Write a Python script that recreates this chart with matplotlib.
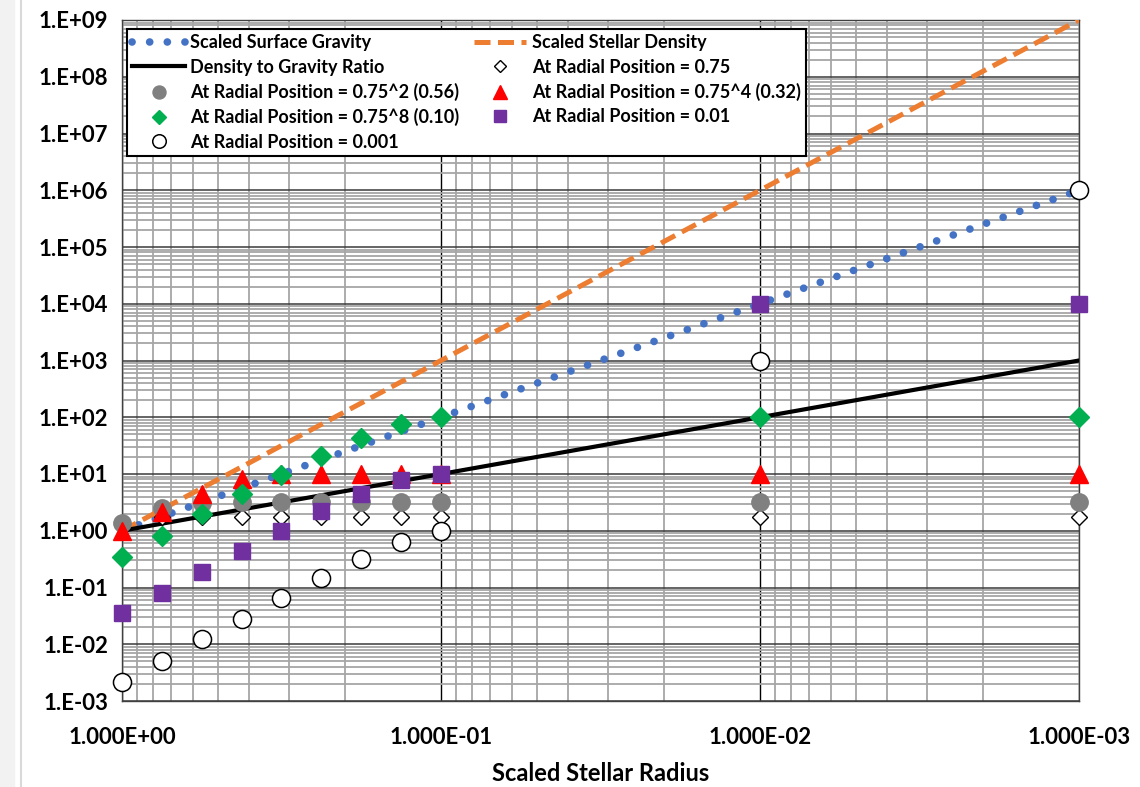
import matplotlib
matplotlib.use("Agg")
import matplotlib.pyplot as plt
from matplotlib.lines import Line2D
from matplotlib.patches import Rectangle
from matplotlib.ticker import FixedLocator, NullFormatter

plt.rcParams['font.family'] = ['Lato', 'DejaVu Sans']
plt.rcParams['font.weight'] = 'bold'

# scaled stellar radius for the marker series
radius = [1.0, 0.75, 0.5625, 0.4219, 0.3164, 0.2373, 0.1780, 0.1335, 0.1001, 0.01, 0.001]

# values at fixed radial positions
at_075 = [1.3, 1.78, 1.78, 1.78, 1.78, 1.78, 1.78, 1.78, 1.78, 1.78, 1.78]
at_056 = [1.36, 2.55, 3.1, 3.16, 3.16, 3.16, 3.16, 3.16, 3.16, 3.16, 3.16]
at_032 = [1.0, 2.1, 4.4, 8.1, 10, 10, 10, 10, 10, 10, 10]
at_010 = [0.35, 0.82, 1.96, 4.4, 9.6, 21, 43.5, 77, 100, 100, 100]
at_001 = [0.036, 0.080, 0.19, 0.435, 0.98, 2.19, 4.4, 7.85, 10, 10000, 10000]
at_0001 = [0.0022, 0.0050, 0.0122, 0.0283, 0.065, 0.148, 0.319, 0.641, 1.0, 1000, 1e6]

# straight lines on log-log axes
line_radius = [1.0, 0.1, 0.01, 0.001]
surface_gravity = [1, 100, 1e4, 1e6]
stellar_density = [1, 1e3, 1e6, 1e9]
density_gravity_ratio = [1, 10, 100, 1000]

x_ticks = [1.0, 0.1, 0.01, 0.001]
x_labels = ['1.000E+00', '1.000E-01', '1.000E-02', '1.000E-03']
y_ticks = [1e-3, 1e-2, 1e-1, 1e0, 1e1, 1e2, 1e3, 1e4, 1e5, 1e6, 1e7, 1e8, 1e9]
y_labels = ['1.E-03', '1.E-02', '1.E-01', '1.E+00', '1.E+01', '1.E+02', '1.E+03',
            '1.E+04', '1.E+05', '1.E+06', '1.E+07', '1.E+08', '1.E+09']

fig = plt.figure(figsize=(11.4, 7.87), dpi=100)
ax = fig.add_axes([122 / 1140, 1 - 701 / 787, 957 / 1140, 681 / 787])

# light strip on the far left like the screenshot
fig.patches.append(Rectangle((0, 0), 14 / 1140, 1, transform=fig.transFigure,
                             color='#f2f2f2', zorder=0))
fig.add_artist(Line2D([21 / 1140, 21 / 1140], [0, 1], transform=fig.transFigure,
                      color='#d9d9d9', lw=1.5))

ax.set_xscale('log')
ax.set_yscale('log')
ax.set_xlim(1.0, 0.001)
ax.set_ylim(1e-3, 1e9)

# grid
ax.xaxis.set_major_locator(FixedLocator(x_ticks))
ax.yaxis.set_major_locator(FixedLocator(y_ticks))
minors_x = [m * d for d in [0.001, 0.01, 0.1] for m in range(2, 10)]
minors_y = [m * d for d in y_ticks[:-1] for m in range(2, 10)]
ax.xaxis.set_minor_locator(FixedLocator(minors_x))
ax.yaxis.set_minor_locator(FixedLocator(minors_y))
ax.xaxis.set_minor_formatter(NullFormatter())
ax.yaxis.set_minor_formatter(NullFormatter())
ax.grid(which='minor', axis='both', color='#a6a6a6', lw=1.3, zorder=0)
ax.grid(which='major', axis='x', color='#000000', lw=1.0, zorder=0)
ax.grid(which='major', axis='y', color='#3a3a3a', lw=1.1, zorder=0)
ax.set_axisbelow(True)

ax.set_xticklabels(x_labels, fontsize=16, fontweight='bold')
ax.set_yticklabels(y_labels, fontsize=16, fontweight='bold')
ax.tick_params(which='both', length=0)
ax.tick_params(axis='x', pad=19)
ax.tick_params(axis='y', pad=10)
for s in ax.spines.values():
    s.set_color('#404040')
    s.set_linewidth(1.0)

ax.set_xlabel('Scaled Stellar Radius', fontsize=17, fontweight='bold', labelpad=10)

# lines
h_grav, = ax.plot(line_radius, surface_gravity, color='#4472C4', lw=5.5,
                  linestyle=(0, (0.01, 2.3)), dash_capstyle='round', zorder=3,
                  label='Scaled Surface Gravity')
h_dens, = ax.plot(line_radius, stellar_density, color='#ED7D31', lw=3.6,
                  linestyle=(0, (3.2, 1.5)), zorder=3, label='Scaled Stellar Density')
h_ratio, = ax.plot(line_radius, density_gravity_ratio, color='black', lw=3.0,
                   zorder=3, label='Density to Gravity Ratio')

# marker series
h075, = ax.plot(radius, at_075, 'D', ms=8, mfc='white', mec='black', mew=1.0,
                zorder=4, clip_on=False, label='At Radial Position = 0.75')
h056, = ax.plot(radius, at_056, 'o', ms=12.5, mfc='#808080', mec='#808080',
                zorder=5, clip_on=False, label='At Radial Position = 0.75^2 (0.56)')
h032, = ax.plot(radius, at_032, '^', ms=13.5, mfc='#FF0000', mec='#FF0000',
                zorder=6, clip_on=False, label='At Radial Position = 0.75^4 (0.32)')
h010, = ax.plot(radius, at_010, 'D', ms=10, mfc='#00B050', mec='#00B050',
                zorder=7, clip_on=False, label='At Radial Position = 0.75^8 (0.10)')
h001, = ax.plot(radius, at_001, 's', ms=12, mfc='#7030A0', mec='#7030A0',
                zorder=8, clip_on=False, label='At Radial Position = 0.01')
h0001, = ax.plot(radius, at_0001, 'o', ms=13, mfc='white', mec='black', mew=1.1,
                 zorder=9, clip_on=False, label='At Radial Position = 0.001')

# Excel fills the legend row by row, matplotlib column by column
handles = [h_grav, h_ratio, h056, h010, h0001, h_dens, h075, h032, h001]
leg = ax.legend(handles=handles, labels=[h.get_label() for h in handles],
                ncol=2, loc='upper left', mode='expand', borderaxespad=0,
                bbox_to_anchor=(5 / 957, 0, 679 / 957, 1 - 9 / 681),
                fontsize=13, frameon=True, fancybox=False, framealpha=1,
                edgecolor='black', handlelength=2.9, handletextpad=0.3,
                labelspacing=0.4, borderpad=0.3, markerscale=0.75)
leg.get_frame().set_linewidth(1.5)
leg.set_zorder(10)
for t in leg.get_texts():
    t.set_fontweight('bold')

fig.savefig('out.png', dpi=100)
